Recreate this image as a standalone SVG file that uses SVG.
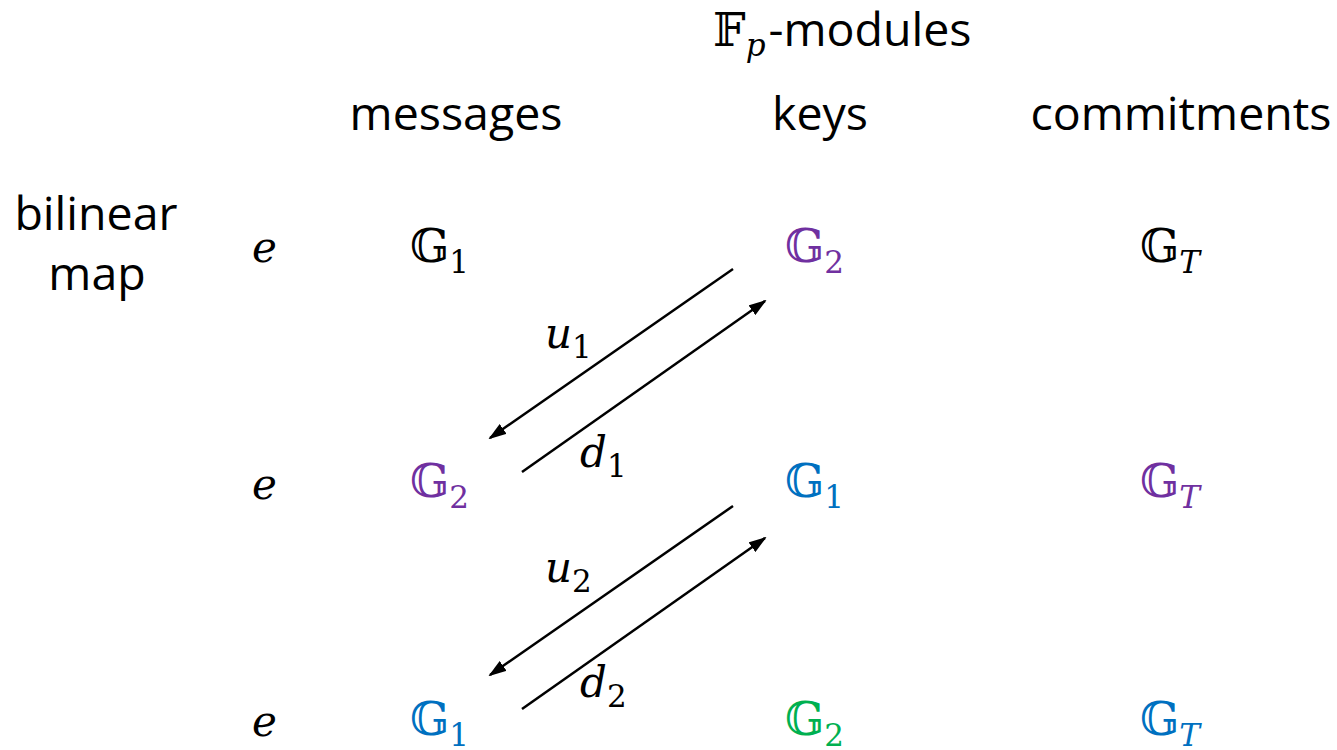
<svg xmlns="http://www.w3.org/2000/svg" width="1337" height="750" viewBox="0 0 1337 750">
<style>
.lbl{font-family:"Open Sans","Lato",sans-serif;font-size:46.5px;fill:#000}
.m{font-family:"DejaVu Serif","Liberation Serif",serif;font-size:46px}
.it{font-family:"DejaVu Serif","Liberation Serif",serif;font-style:italic;font-size:42px}
.sub{font-family:"DejaVu Serif","Liberation Serif",serif;font-style:normal;font-size:31px}
.subi{font-family:"DejaVu Serif","Liberation Serif",serif;font-style:italic;font-size:31px}
.k{fill:#000}.pu{fill:#7030A0}.bl{fill:#0070C0}.gr{fill:#00B050}
.arr{stroke:#000;stroke-width:2.5;fill:none;marker-end:url(#ah)}
</style>
<defs>
<marker id="ah" viewBox="0 0 18 12" refX="16" refY="6" markerWidth="18" markerHeight="12" markerUnits="userSpaceOnUse" orient="auto">
<path d="M0,0 L18,6 L0,12 z" fill="#000"/>
</marker>
</defs>
<rect width="1337" height="750" fill="#fff"/>
<g id="header-fp"><text x="713" y="46"><tspan class="m k">𝔽</tspan><tspan class="subi k" dy="10">p</tspan><tspan class="lbl" dy="-10" dx="3">-modules</tspan></text></g>
<g id="col-messages"><text class="lbl" x="456" y="130" text-anchor="middle">messages</text></g>
<g id="col-keys"><text class="lbl" x="820" y="130" text-anchor="middle">keys</text></g>
<g id="col-commitments"><text class="lbl" x="1181" y="130" text-anchor="middle">commitments</text></g>
<g id="row-label"><text class="lbl" x="96" y="230" text-anchor="middle">bilinear</text><text class="lbl" x="97" y="290" text-anchor="middle">map</text></g>

<g id="e1"><text class="it k" x="252" y="262">e</text></g>
<g id="e2"><text class="it k" x="252" y="499">e</text></g>
<g id="e3"><text class="it k" x="252" y="736">e</text></g>

<g id="r1-msg"><text x="410" y="262" class="m k">𝔾<tspan class="sub" dy="11">1</tspan></text></g>
<g id="r1-key"><text x="785" y="262" class="m pu">𝔾<tspan class="sub" dy="11">2</tspan></text></g>
<g id="r1-com"><text x="1140" y="262" class="m k">𝔾<tspan class="subi" dy="11">T</tspan></text></g>

<g id="r2-msg"><text x="410" y="497" class="m pu">𝔾<tspan class="sub" dy="11">2</tspan></text></g>
<g id="r2-key"><text x="785" y="497" class="m bl">𝔾<tspan class="sub" dy="11">1</tspan></text></g>
<g id="r2-com"><text x="1140" y="497" class="m pu">𝔾<tspan class="subi" dy="11">T</tspan></text></g>

<g id="r3-msg"><text x="410" y="735" class="m bl">𝔾<tspan class="sub" dy="11">1</tspan></text></g>
<g id="r3-key"><text x="785" y="735" class="m gr">𝔾<tspan class="sub" dy="11">2</tspan></text></g>
<g id="r3-com"><text x="1140" y="735" class="m bl">𝔾<tspan class="subi" dy="11">T</tspan></text></g>

<g id="connectors">
<line class="arr" x1="733" y1="269" x2="490" y2="438"/>
<line class="arr" x1="522" y1="472" x2="765" y2="301"/>
<line class="arr" x1="733" y1="506" x2="490" y2="675"/>
<line class="arr" x1="522" y1="709" x2="765" y2="538"/>
<text x="545" y="348" class="it k">u<tspan class="sub" dy="10">1</tspan></text>
<text x="580" y="467" class="it k">d<tspan class="sub" dy="10">1</tspan></text>
<text x="545" y="582" class="it k">u<tspan class="sub" dy="10">2</tspan></text>
<text x="580" y="697" class="it k">d<tspan class="sub" dy="10">2</tspan></text>
</g>
</svg>
